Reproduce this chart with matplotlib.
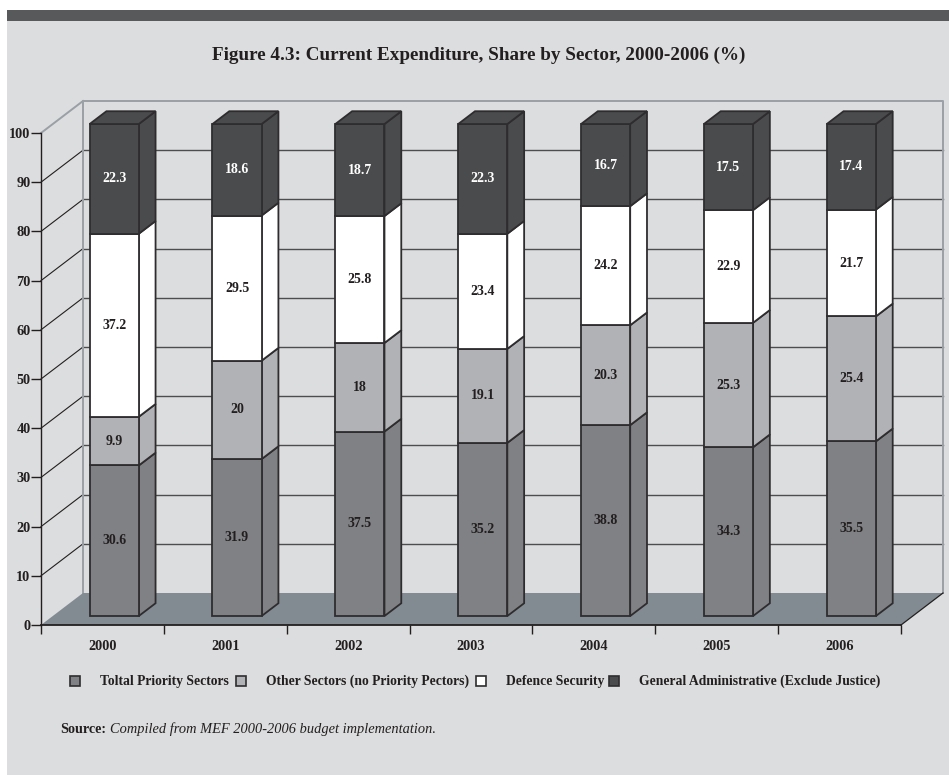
import numpy as np
from matplotlib import pyplot as plt
from matplotlib.patches import Polygon, Rectangle

### Dane

years = ["2000", "2001", "2002", "2003", "2004", "2005", "2006"]
priority = [30.6, 31.9, 37.5, 35.2, 38.8, 34.3, 35.5]
other = [9.9, 20, 18, 19.1, 20.3, 25.3, 25.4]
defence = [37.2, 29.5, 25.8, 23.4, 24.2, 22.9, 21.7]
general = [22.3, 18.6, 18.7, 22.3, 16.7, 17.5, 17.4]

series = [priority, other, defence, general]
names = ["Toltal Priority Sectors", "Other Sectors (no Priority Pectors)",
         "Defence Security", "General Administrative (Exclude Justice)"]
colors = ["#808184", "#b1b2b5", "#ffffff", "#4a4b4d"]
text_colors = ["#231f20", "#231f20", "#231f20", "#ffffff"]

W, H = 949, 775
BG = "#dcddde"
DARK = "#2e2c2e"
WALL = "#9aa0a6"
FONT = ["Liberation Serif", "DejaVu Serif"]

# przesuniecie glebi w jednostkach danych (kategorie, procenty)
DEPTH_X = 42 / 122.86
DEPTH_Y = 32 / 4.92
BAR_W = 0.4
BAR_FRONT = 0.28
BAR_BACK = 0.68


def fig_xy(x, y):
    return x / W, 1 - y / H


def shift(x, y, d):
    return x + d * DEPTH_X, y + d * DEPTH_Y


fig = plt.figure(figsize=[W / 100, H / 100], dpi=100, facecolor="white")

fig.patches.append(Rectangle(fig_xy(7, H), (W - 7) / W, (H - 20) / H, transform=fig.transFigure,
                             facecolor=BG, edgecolor="none", zorder=-5))
fig.patches.append(Rectangle(fig_xy(7, 20.5), (W - 7) / W, 10.5 / H, transform=fig.transFigure,
                             facecolor="#58595b", edgecolor="none", zorder=-4))

ax = fig.add_axes([41 / W, (H - 625) / H, 860 / W, 492 / H])
ax.set_xlim(0, len(years))
ax.set_ylim(0, 100)
ax.patch.set_alpha(0)

### Sciany i podloga

x_back0, y_back0 = shift(0, 0, 1)
x_back1, y_back1 = shift(len(years), 100, 1)

for v in range(10, 100, 10):
    xa, ya = shift(0, v, 1)
    ax.plot([xa, x_back1], [ya, ya], color="#4d4d4f", lw=1.0, clip_on=False, zorder=1)
for v in range(10, 101, 10):
    xa, ya = shift(0, v, 1)
    c, lw = (WALL, 1.4) if v == 100 else ("#231f20", 0.8)
    ax.plot([0, xa], [v, ya], color=c, lw=lw, clip_on=False, zorder=1)

ax.plot([x_back0, x_back0, x_back1, x_back1], [y_back0, y_back1, y_back1, y_back0],
        color=WALL, lw=1.4, clip_on=False, zorder=1.5)

floor = [(0, 0), (len(years), 0), shift(len(years), 0, 1), shift(0, 0, 1)]
ax.add_patch(Polygon(floor, closed=True, facecolor="#828b92", edgecolor="none", clip_on=False, zorder=2))
ax.plot([len(years), x_back1], [0, y_back0], color="#231f20", lw=0.9, clip_on=False, zorder=2.1)

### Slupki 3D

for i, year in enumerate(years):
    x0 = i + 0.5 - BAR_W / 2
    x1 = i + 0.5 + BAR_W / 2
    base = 0
    for k, vals in enumerate(series):
        top = base + vals[i]
        front = [shift(x0, base, BAR_FRONT), shift(x1, base, BAR_FRONT),
                 shift(x1, top, BAR_FRONT), shift(x0, top, BAR_FRONT)]
        side = [shift(x1, base, BAR_FRONT), shift(x1, base, BAR_BACK),
                shift(x1, top, BAR_BACK), shift(x1, top, BAR_FRONT)]
        for poly in (side, front):
            ax.add_patch(Polygon(poly, closed=True, facecolor=colors[k], edgecolor=DARK,
                                 lw=1.3, joinstyle="miter", clip_on=False, zorder=3 + i * 0.1))
        if k == len(series) - 1:
            lid = [shift(x0, top, BAR_FRONT), shift(x1, top, BAR_FRONT),
                   shift(x1, top, BAR_BACK), shift(x0, top, BAR_BACK)]
            ax.add_patch(Polygon(lid, closed=True, facecolor=colors[k], edgecolor=DARK,
                                 lw=1.3, joinstyle="miter", clip_on=False, zorder=3 + i * 0.1))
        xt, yt = shift(i + 0.5, base + vals[i] / 2, BAR_FRONT)
        ax.text(xt, yt, f"{vals[i]:g}", ha="center", va="center", color=text_colors[k],
                family=FONT, fontweight="bold", fontsize=10, zorder=5)
        base = top

### Osie

for s in ["top", "right"]:
    ax.spines[s].set_visible(False)
for s in ["left", "bottom"]:
    ax.spines[s].set_color("#231f20")
    ax.spines[s].set_zorder(6)
ax.spines["left"].set_linewidth(1.0)
ax.spines["bottom"].set_linewidth(1.3)

ax.set_yticks(np.arange(0, 101, 10))
ax.set_xticks(np.arange(len(years) + 1))
ax.set_xticks(np.arange(len(years)) + 0.5, labels=years, minor=True)
ax.set_xticklabels([])
ax.tick_params(axis="y", length=7, width=1.0, pad=0.5, color="#231f20", labelcolor="#231f20")
ax.tick_params(axis="x", which="major", length=6.5, width=1.0, color="#231f20")
ax.tick_params(axis="x", which="minor", length=0, pad=10.5, labelcolor="#231f20")
for lab in ax.get_yticklabels() + ax.get_xticklabels(minor=True):
    lab.set_family(FONT)
    lab.set_fontweight("bold")
    lab.set_fontsize(10.3)

### Tytul, legenda, zrodlo

fig.text(*fig_xy(479, 55.5), "Figure 4.3: Current Expenditure, Share by Sector, 2000-2006 (%)",
         ha="center", va="center", family=FONT, fontweight="bold", fontsize=13.8, color="#231f20")

box_x = [70, 236, 476, 609]
text_x = [100, 266, 506, 639]
for k, name in enumerate(names):
    fig.patches.append(Rectangle(fig_xy(box_x[k], 685.5), 9.5 / W, 9.5 / H, transform=fig.transFigure,
                                 facecolor=colors[k], edgecolor=DARK, lw=1.2))
    fig.text(*fig_xy(text_x[k], 685), name, ha="left", va="baseline", family=FONT,
             fontweight="bold", fontsize=9.8, color="#231f20")

fig.text(*fig_xy(60, 733), "Source:", ha="left", va="baseline", family=FONT,
         fontweight="bold", fontsize=10.2, color="#231f20")
fig.text(*fig_xy(110, 733), "Compiled from MEF 2000-2006 budget implementation.", ha="left", va="baseline",
         family=FONT, style="italic", fontsize=10.35, color="#231f20")

plt.savefig("out.png", dpi=100, facecolor="white")
